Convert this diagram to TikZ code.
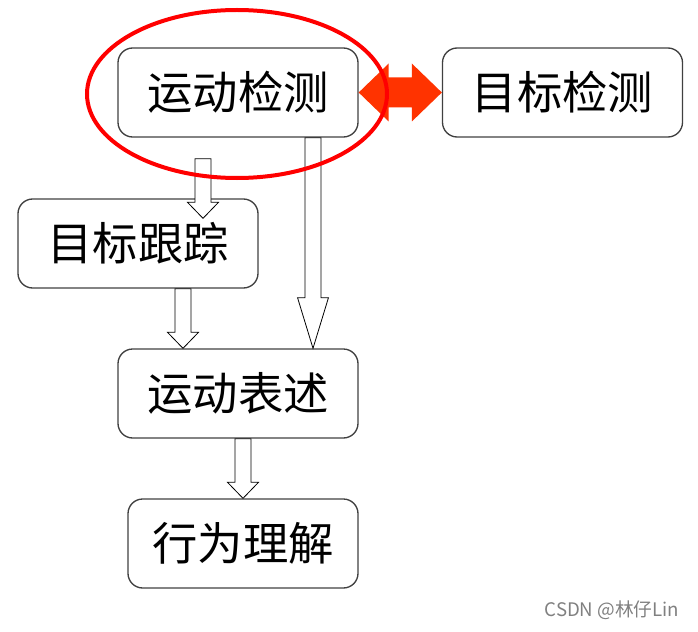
\documentclass[tikz,border=0pt]{standalone}
\usepackage{fontspec}
\newfontfamily\cjk{Noto Sans CJK SC}
\usetikzlibrary{calc}
\definecolor{boxgray}{HTML}{404040}
\definecolor{arrred}{HTML}{FF3300}
\tikzset{
  stage/.style={draw=boxgray, line width=1pt, rounded corners=11pt,
    minimum width=180pt, minimum height=66.75pt, inner sep=0pt,
    font=\cjk\fontsize{34}{40}\selectfont},
  headlen/.store in=\arrhead, headlen=12pt,
  blockarrow/.style={draw=black, line width=0.6pt, fill=white,
    to path={let \p1=(\tikztostart), \p2=(\tikztotarget) in
      (\x1-6pt,\y1) -- (\x1-6pt,\y2+\arrhead) -- (\x1-11.6pt,\y2+\arrhead)
      -- (\x1,\y2) -- (\x1+11.6pt,\y2+\arrhead) -- (\x1+6pt,\y2+\arrhead)
      -- (\x1+6pt,\y1) -- cycle}},
  dblarrow/.style={fill=arrred, draw=none,
    to path={let \p1=(\tikztostart), \p2=(\tikztotarget) in
      (\x1,\y1) -- (\x1+22.5pt,\y1+21.75pt) -- (\x1+22.5pt,\y1+11.25pt)
      -- (\x2-22.5pt,\y1+11.25pt) -- (\x2-22.5pt,\y1+21.75pt) -- (\x2,\y2)
      -- (\x2-22.5pt,\y1-21.75pt) -- (\x2-22.5pt,\y1-11.25pt)
      -- (\x1+22.5pt,\y1-11.25pt) -- (\x1+22.5pt,\y1-21.75pt) -- cycle}}
}
\begin{document}
\begin{tikzpicture}[x=0.75pt,y=-0.75pt]
    \useasboundingbox (0,0) rectangle (698,631);
    % stages
    \node[stage] (det) at (238,92.5)   {运动检测};
    \node[stage] (tgt) at (562.5,92.5) {目标检测};
    \node[stage] (trk) at (138,243.5)  {目标跟踪};
    \node[stage] (mot) at (238,393.5)  {运动表述};
    \node[stage, minimum width=172.5pt] (beh) at (243,543.5) {行为理解};
    % hollow arrows
    \coordinate (a1) at ($(det.south)+(-35,21)$);
    \coordinate (a2) at ($(trk.south)+(45,0)$);
    \coordinate (a3) at ($(det.south)+(75,0)$);
    \coordinate (a4) at ($(mot.south)+(5,0)$);
    \draw[blockarrow] (a1) to ($(a1 |- trk.north)+(0,20)$);
    \draw[blockarrow] (a2) to (a2 |- mot.north);
    \draw[blockarrow, headlen=38pt] (a3) to (a3 |- mot.north);
    \draw[blockarrow] (a4) to (a4 |- beh.north);
    % red marks
    \path[dblarrow] (det.east) to (tgt.west);
    \draw[red, line width=3pt] ($(det.center)+(-1,1.5)$) ellipse [x radius=112.5pt, y radius=63pt];
    \node[anchor=east, text=gray, font=\cjk\fontsize{14}{16}\selectfont] (mark) at (684,610) {CSDN @林仔Lin};
\end{tikzpicture}
\end{document}
